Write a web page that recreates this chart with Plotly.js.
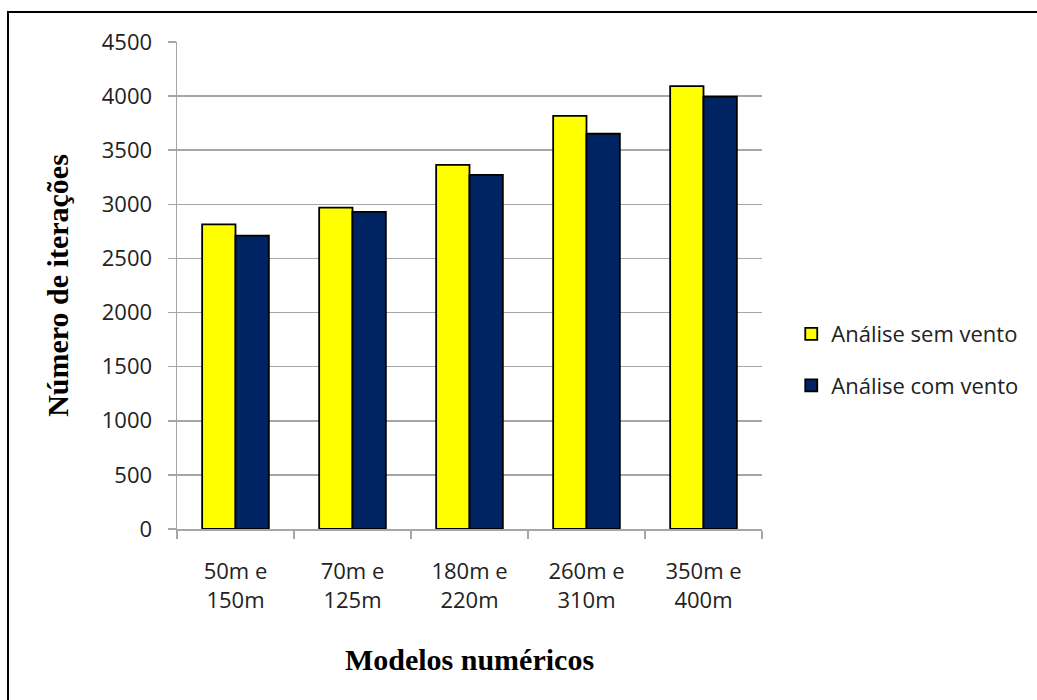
<!DOCTYPE html>
<html>
<head>
<meta charset="utf-8">
<script src="https://cdn.plot.ly/plotly-3.0.1.min.js"></script>
<style>
html,body{margin:0;padding:0;background:#fff;overflow:hidden;}
#chart{width:1037px;height:700px;position:absolute;left:0;top:0;}
#frame{position:absolute;left:7px;top:11px;width:1100px;height:800px;border:2px solid #000;pointer-events:none;box-sizing:border-box;}
</style>
</head>
<body>
<div id="chart"></div>
<div id="frame"></div>
<script>
const categories = ["50m e<br>150m", "70m e<br>125m", "180m e<br>220m", "260m e<br>310m", "350m e<br>400m"];
const semVento = [2815, 2970, 3365, 3818, 4092];
const comVento = [2710, 2930, 3272, 3652, 3995];
const seriesNames = ["Análise sem vento", "Análise com vento"];
const yTicks = [0, 500, 1000, 1500, 2000, 2500, 3000, 3500, 4000, 4500];

const tickFont = {family: "Open Sans, sans-serif", size: 22, color: "#222"};
const legendFont = {family: "Open Sans, sans-serif", size: 22, color: "#222"};
const titleFont = {family: "Liberation Serif, Times New Roman, serif", size: 30, color: "#000", weight: "bold"};

const traces = [
  {type: "bar", x: categories, y: semVento, name: seriesNames[0], legendgroup: "a",
   marker: {color: "#FFFF00", line: {color: "#000", width: 1.8}}},
  {type: "bar", x: categories, y: comVento, name: seriesNames[1], legendgroup: "b",
   marker: {color: "#002463", line: {color: "#000", width: 1.8}}}
];

const layout = {
  width: 1037, height: 700,
  margin: {l: 177, r: 275, t: 42, b: 171},
  paper_bgcolor: "#fff", plot_bgcolor: "#fff",
  barmode: "group", bargap: 0.43, bargroupgap: 0,
  showlegend: true,
  legend: {x: 1.05, xanchor: "left", y: 0.347, yanchor: "middle",
           font: legendFont, tracegroupgap: 20, bgcolor: "rgba(0,0,0,0)"},
  xaxis: {
    type: "category", tickfont: tickFont,
    showline: true, linecolor: "#a6a6a6", linewidth: 1.5,
    ticks: "outside", tickson: "boundaries", ticklen: 8, tickcolor: "#a6a6a6", tickwidth: 1.5,
    ticklabelstandoff: 22,
    showgrid: false, automargin: false,
    title: {text: "Modelos numéricos", font: titleFont, standoff: 36}
  },
  yaxis: {
    range: [0, 4500], tickvals: yTicks, ticktext: yTicks.map(String), tickfont: tickFont,
    showline: true, linecolor: "#a6a6a6", linewidth: 1.5,
    ticks: "outside", ticklen: 8, tickcolor: "#a6a6a6", tickwidth: 1.5,
    ticklabelstandoff: 11,
    showgrid: true, gridcolor: "#a6a6a6", gridwidth: 1.5, zeroline: false,
    automargin: false,
    title: {text: "Número de iterações", font: titleFont, standoff: 24}
  }
};

Plotly.newPlot("chart", traces, layout, {displayModeBar: false, staticPlot: true});
</script>
</body>
</html>
